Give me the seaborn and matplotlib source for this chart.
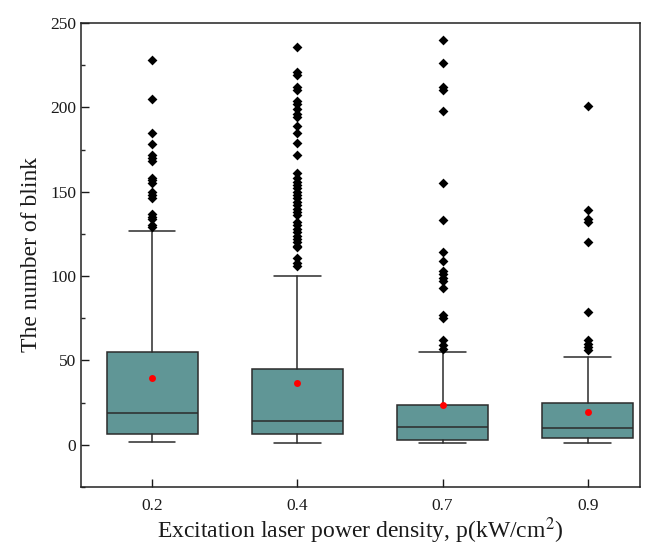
import numpy as np
import pandas as pd
import matplotlib
matplotlib.use("Agg")
import matplotlib.pyplot as plt
from matplotlib.ticker import MultipleLocator
import seaborn as sns

# --- DATA ---
POWER = ['0.2', '0.4', '0.7', '0.9']
Q1 = [6.3, 6.3, 3.0, 3.8]
MEDIAN = [18.6, 14.3, 10.5, 9.7]
Q3 = [55.0, 44.7, 23.8, 24.5]
WHISK_LO = [1.6, 0.8, 1.0, 1.0]
WHISK_HI = [126.7, 99.8, 55.0, 52.0]
MEAN = [39.4, 36.4, 23.8, 19.4]

OUT_02 = [228, 205, 185, 178, 172, 170, 168, 158, 157, 155, 150, 148, 146,
          137, 135, 134, 130, 129]
OUT_04 = [236, 221, 219, 212, 210, 204, 202, 199, 196, 194, 189, 185, 179,
          172, 161, 158, 156, 154, 152, 150, 148, 146, 144, 142, 140, 138,
          136, 132, 130, 128, 126, 124, 122, 120, 118, 117, 111, 108, 106]
OUT_07 = [240, 226, 212, 210, 198, 155, 133, 114, 109, 103, 101, 99, 97, 93,
          77, 75, 62, 59, 57]
OUT_09 = [201, 139, 134, 132, 120, 79, 62, 60, 58, 56]

# --- STYLE ---
BOX_COLOR = '#609696'
EDGE = '#2b2b2b'
TEXT = '#1a1a1a'

sns.set_theme(style='ticks')
plt.rcParams['font.family'] = ['Liberation Serif', 'DejaVu Serif']
plt.rcParams['mathtext.fontset'] = 'stix'

fig = plt.figure(figsize=(6.49, 5.46), dpi=100)
ax = fig.add_axes([0.125, 0.108, 0.861, 0.850])

stats = []
for i, lab in enumerate(POWER):
    stats.append({'label': lab, 'q1': Q1[i], 'med': MEDIAN[i], 'q3': Q3[i],
                  'whislo': WHISK_LO[i], 'whishi': WHISK_HI[i],
                  'mean': MEAN[i], 'fliers': []})

ax.bxp(stats, positions=range(len(POWER)), widths=0.63, capwidths=0.32,
       patch_artist=True, showfliers=False, manage_ticks=False,
       boxprops=dict(facecolor=BOX_COLOR, edgecolor=EDGE, linewidth=1.1),
       medianprops=dict(color=EDGE, linewidth=1.1),
       whiskerprops=dict(color=EDGE, linewidth=1.1),
       capprops=dict(color=EDGE, linewidth=1.1))

outliers = pd.DataFrame({
    'power': ['0.2'] * len(OUT_02) + ['0.4'] * len(OUT_04)
             + ['0.7'] * len(OUT_07) + ['0.9'] * len(OUT_09),
    'blinks': OUT_02 + OUT_04 + OUT_07 + OUT_09,
})
means = pd.DataFrame({'power': POWER, 'blinks': MEAN})

sns.stripplot(data=outliers, x='power', y='blinks', order=POWER, jitter=False,
              marker='D', color='black', size=5, linewidth=0, ax=ax, zorder=4)
sns.stripplot(data=means, x='power', y='blinks', order=POWER, jitter=False,
              marker='o', color='red', size=5, linewidth=0, ax=ax, zorder=5)

ax.set_xlim(-0.49, 3.36)
ax.set_ylim(-25, 250)
ax.set_xticks(range(len(POWER)))
ax.set_xticklabels(POWER)
ax.yaxis.set_major_locator(MultipleLocator(50))
ax.yaxis.set_minor_locator(MultipleLocator(25))

ax.tick_params(axis='both', which='major', direction='in', length=6,
               width=1, labelsize=12.5, colors=TEXT)
ax.tick_params(axis='y', which='minor', direction='in', length=3, width=1)
ax.tick_params(axis='x', pad=8)

for side in ['top', 'right', 'left', 'bottom']:
    ax.spines[side].set_visible(True)
    ax.spines[side].set_linewidth(1.1)
    ax.spines[side].set_color('#222222')

ax.set_xlabel('Excitation laser power density, p(kW/cm$^2$)', fontsize=17,
              color=TEXT, labelpad=1)
ax.set_ylabel('The number of blink', fontsize=17, color=TEXT, labelpad=6)

fig.savefig('out.png', dpi=100)
